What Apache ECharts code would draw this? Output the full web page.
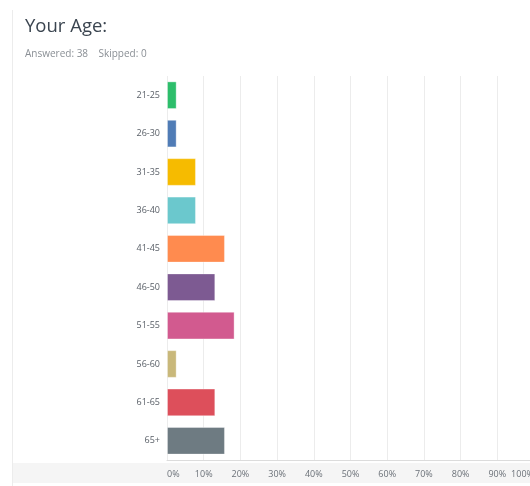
<!DOCTYPE html>
<html>
<head>
<meta charset="utf-8">
<script src="https://cdn.jsdelivr.net/npm/echarts@6/dist/echarts.min.js"></script>
<style>
  html, body { margin: 0; padding: 0; background: #fff; }
  #chart { width: 530px; height: 486px; }
</style>
</head>
<body>
<div id="chart"></div>
<script>
// Age brackets, top to bottom
const categories = ['21-25', '26-30', '31-35', '36-40', '41-45', '46-50', '51-55', '56-60', '61-65', '65+'];
// Share of respondents per bracket (%), 38 answers
const percents = [2.63, 2.63, 7.89, 7.89, 15.79, 13.16, 18.42, 2.63, 13.16, 15.79];
const barColors = ['#2dbe6b', '#507cb6', '#f6bb00', '#6bc8cd', '#ff8b4f', '#7d5a92', '#d25a8f', '#c9b87a', '#dd4f5b', '#6e7b82'];
const xTicks = ['0%', '10%', '20%', '30%', '40%', '50%', '60%', '70%', '80%', '90%', '100%'];

const chart = echarts.init(document.getElementById('chart'), null, { renderer: 'canvas' });

chart.setOption({
  animation: false,
  backgroundColor: '#ffffff',
  textStyle: { fontFamily: '"Open Sans", Roboto, sans-serif' },
  title: {
    text: 'Your Age:',
    subtext: 'Answered: 38    Skipped: 0',
    left: 20,
    top: 12,
    itemGap: 13,
    textStyle: { fontSize: 18.5, fontWeight: 'normal', color: '#3b4550', fontFamily: '"Open Sans", sans-serif' },
    subtextStyle: { fontSize: 10, color: '#8a8f95', fontFamily: '"Open Sans", sans-serif' }
  },
  graphic: [
    // band behind the percentage scale
    { type: 'rect', z: -10, shape: { x: 13, y: 463, width: 517, height: 20 }, style: { fill: '#f5f5f5' } },
    // left frame edge
    { type: 'line', z: -5, shape: { x1: 12.5, y1: 10, x2: 12.5, y2: 486 }, style: { stroke: '#ececec', lineWidth: 1 } }
  ],
  grid: { left: 167, top: 76, width: 367, height: 384, containLabel: false, outerBoundsMode: 'none' },
  xAxis: {
    type: 'value',
    min: 0,
    max: 100,
    interval: 10,
    axisLine: { show: true, lineStyle: { color: '#dcdcdc', width: 1 } },
    axisTick: { show: false },
    splitLine: { show: true, lineStyle: { color: '#ececec', width: 1 } },
    axisLabel: {
      margin: 10,
      fontSize: 9,
      color: '#6b7178',
      hideOverlap: false,
      alignMinLabel: 'left',
      alignMaxLabel: 'right',
      formatter: (v) => xTicks[Math.round(v / 10)]
    }
  },
  yAxis: {
    type: 'category',
    data: categories,
    inverse: true,
    axisLine: { show: false },
    axisTick: { show: false },
    axisLabel: { margin: 7, fontSize: 9, color: '#5a6068' }
  },
  series: [{
    type: 'bar',
    data: percents.map((v, i) => ({ value: v, itemStyle: { color: barColors[i] } })),
    barCategoryGap: '28%',
    itemStyle: { borderColor: 'rgba(255,255,255,0.35)', borderWidth: 1 }
  }]
});
</script>
</body>
</html>
